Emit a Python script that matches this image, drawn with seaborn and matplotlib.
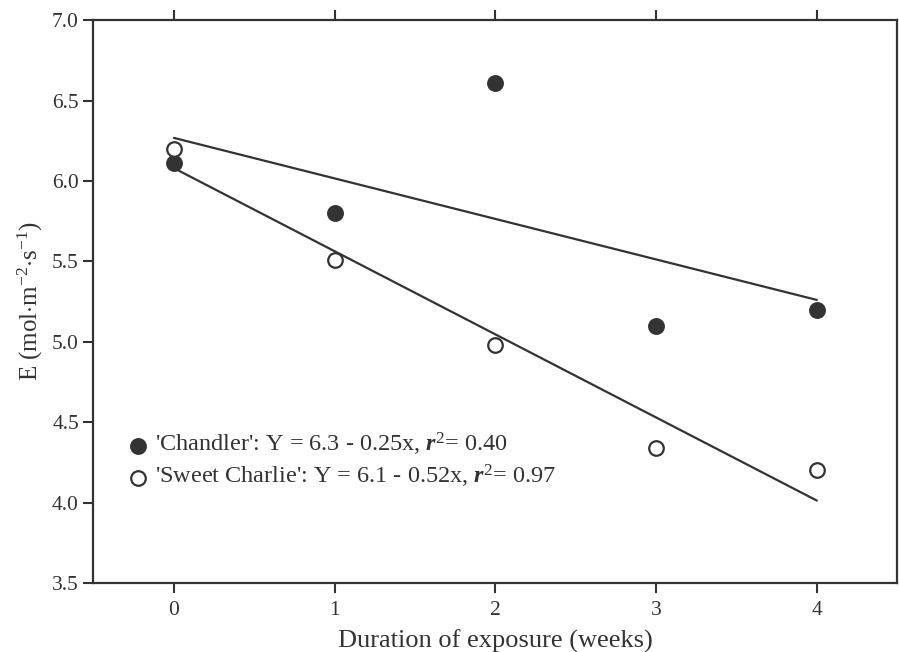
import matplotlib
matplotlib.use("Agg")
import matplotlib.pyplot as plt
import seaborn as sns
import pandas as pd
import numpy as np

weeks = [0, 1, 2, 3, 4]
chandler = [6.11, 5.80, 6.61, 5.10, 5.20]
sweet_charlie = [6.20, 5.51, 4.98, 4.34, 4.20]
x_ticks = [0, 1, 2, 3, 4]
y_ticks = [3.5, 4.0, 4.5, 5.0, 5.5, 6.0, 6.5, 7.0]
label_chandler = "'Chandler': Y = 6.3 - 0.25x, $\\mathbfit{r}^2$= 0.40"
label_sweet = "'Sweet Charlie': Y = 6.1 - 0.52x, $\\mathbfit{r}^2$= 0.97"

sns.set_style("ticks")
plt.rcParams['font.family'] = ['Liberation Serif', 'DejaVu Serif']
plt.rcParams['mathtext.fontset'] = 'custom'
plt.rcParams['mathtext.rm'] = 'Liberation Serif'
plt.rcParams['mathtext.it'] = 'Liberation Serif:italic'
plt.rcParams['mathtext.bf'] = 'Liberation Serif:bold'
plt.rcParams['mathtext.bfit'] = 'Liberation Serif:italic:bold'

dark = '#333333'
df = pd.DataFrame({'weeks': weeks, 'chandler': chandler, 'sweet': sweet_charlie})

fig = plt.figure(figsize=(8.99, 6.52), dpi=100)
ax = fig.add_axes([0.104, 0.106, 0.894, 0.863])

sns.regplot(data=df, x='weeks', y='chandler', ci=None, ax=ax, truncate=True,
            scatter=False, line_kws=dict(color=dark, lw=1.6))
sns.regplot(data=df, x='weeks', y='sweet', ci=None, ax=ax, truncate=True,
            scatter=False, line_kws=dict(color=dark, lw=1.6))
ax.scatter(df['weeks'], df['chandler'], s=120, color=dark, edgecolor=dark,
           linewidth=1.2, zorder=3, label=label_chandler)
ax.scatter(df['weeks'], df['sweet'], s=110, facecolor='white', edgecolor=dark,
           linewidth=1.6, zorder=3, label=label_sweet)

ax.set_xlim(-0.5, 4.5)
ax.set_ylim(3.5, 7.0)
ax.set_xticks(x_ticks)
ax.set_yticks(y_ticks)
ax.set_yticklabels([f"{v:.1f}" for v in y_ticks])
ax.tick_params(axis='both', labelsize=15.5, colors=dark, length=7, width=1.5, direction='out')
ax.tick_params(axis='x', top=True, bottom=True, pad=6)
for sp in ax.spines.values():
    sp.set_color(dark)
    sp.set_linewidth(1.6)

ax.set_xlabel('Duration of exposure (weeks)', fontsize=19, color=dark, labelpad=7)
ax.set_ylabel('E (mol$\\cdot$m$^{-2}$$\\cdot$s$^{-1}$)', fontsize=18, color=dark, labelpad=5)

leg = ax.legend(loc='lower left', bbox_to_anchor=(0.028, 0.147), frameon=False,
                fontsize=17.5, handletextpad=0.2, labelspacing=0.2, borderaxespad=0,
                handlelength=1.0, labelcolor=dark)

fig.savefig('out.png', dpi=100)
